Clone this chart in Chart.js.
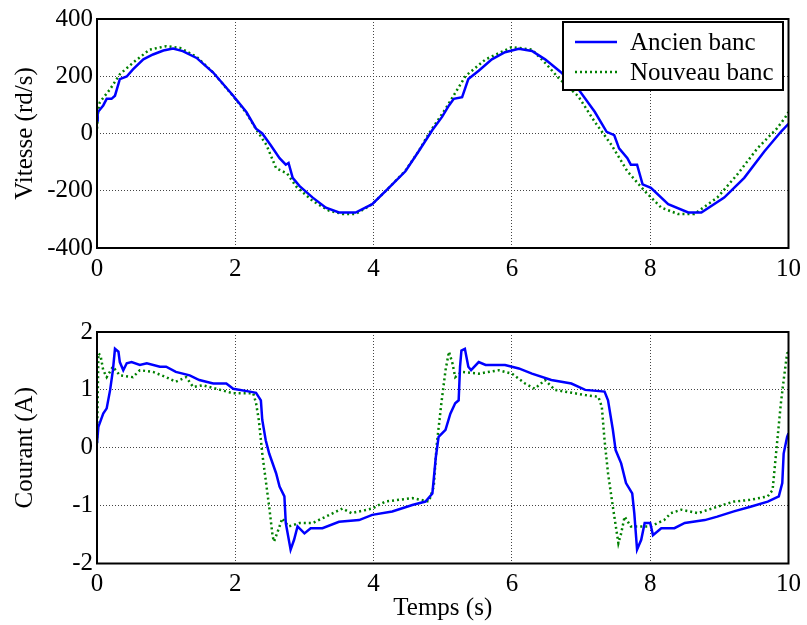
<!DOCTYPE html>
<html>
<head>
<meta charset="utf-8">
<script src="https://cdn.jsdelivr.net/npm/chart.js@4"></script>
<style>
  body { margin: 0; background: #fff; }
  canvas { position: absolute; left: 0; }
  #speed { top: 0; }
  #current { top: 300px; }
</style>
</head>
<body>
<canvas id="speed" width="807" height="290"></canvas>
<canvas id="current" width="807" height="325"></canvas>
<script>
// Vitesse - ancien banc
var tSpeedOld = [0, 0.01, 0.09, 0.14, 0.21, 0.26, 0.33, 0.43, 0.52, 0.67,
                 0.81, 0.96, 1.10, 1.24, 1.44, 1.68, 1.97, 2.16, 2.30, 2.39,
                 2.51, 2.64, 2.73, 2.77, 2.83, 2.93, 3.12, 3.31, 3.50, 3.74,
                 3.98, 4.22, 4.46, 4.65, 4.85, 4.99, 5.09, 5.16, 5.28, 5.37,
                 5.52, 5.71, 5.90, 6.10, 6.29, 6.48, 6.70, 6.96, 7.20, 7.37,
                 7.48, 7.55, 7.67, 7.72, 7.81, 7.89, 8.01, 8.26, 8.55, 8.74,
                 9.07, 9.36, 9.65, 9.89, 10];
var vSpeedOld = [45, 74, 98, 121, 121, 132, 190, 199, 224, 259,
                 276, 290, 297, 288, 264, 213, 132, 75, 17, 0,
                 -40, -86, -109, -103, -155, -184, -224, -259, -276, -276,
                 -247, -190, -132, -63, 12, 58, 98, 121, 127, 190,
                 219, 259, 284, 296, 288, 259, 216, 155, 75, 6,
                 -6, -52, -86, -109, -109, -178, -190, -247, -276, -276,
                 -224, -155, -63, 6, 34];

// Vitesse - nouveau banc
var tSpeedNew = [0, 0.02, 0.04, 0.19, 0.33, 0.52, 0.76, 1.00, 1.20, 1.44,
                 1.68, 1.97, 2.16, 2.30, 2.45, 2.59, 2.75, 2.88, 3.12, 3.36,
                 3.55, 3.74, 3.98, 4.22, 4.46, 4.65, 4.80, 5.04, 5.33, 5.62,
                 6.00, 6.29, 6.48, 6.67, 6.96, 7.20, 7.44, 7.67, 7.92, 8.16,
                 8.40, 8.64, 8.97, 9.26, 9.55, 9.83, 9.95, 10];
var vSpeedNew = [17, 86, 109, 155, 207, 247, 293, 305, 299, 268,
                 213, 130, 72, 15, -40, -121, -140, -185, -236, -270,
                 -281, -281, -247, -190, -130, -62, 0, 86, 201, 259,
                 302, 293, 247, 195, 130, 40, -40, -132, -201, -259,
                 -281, -281, -224, -143, -52, 17, 55, 75];

// Courant - ancien banc
var tCurOld = [0, 0.02, 0.09, 0.14, 0.19, 0.23, 0.26, 0.31, 0.33, 0.38,
               0.43, 0.50, 0.62, 0.72, 0.91, 1.00, 1.14, 1.34, 1.48, 1.68,
               1.87, 1.97, 2.21, 2.30, 2.37, 2.39, 2.44, 2.49, 2.59, 2.64,
               2.71, 2.73, 2.80, 2.85, 2.90, 3.00, 3.09, 3.26, 3.50, 3.79,
               3.98, 4.27, 4.56, 4.75, 4.85, 4.90, 4.94, 5.04, 5.11, 5.18,
               5.23, 5.25, 5.27, 5.32, 5.37, 5.41, 5.52, 5.62, 5.90, 6.10,
               6.29, 6.57, 6.86, 7.06, 7.34, 7.39, 7.46, 7.50, 7.58, 7.65,
               7.74, 7.77, 7.81, 7.87, 7.92, 8.00, 8.04, 8.16, 8.35, 8.50,
               8.79, 8.97, 9.21, 9.45, 9.70, 9.86, 9.91, 9.93, 9.98, 10];
var iCurOld = [0.08, 0.36, 0.59, 0.68, 1.00, 1.34, 1.71, 1.66, 1.48, 1.34,
               1.46, 1.48, 1.43, 1.46, 1.40, 1.40, 1.31, 1.25, 1.17, 1.11,
               1.11, 1.02, 0.97, 0.95, 0.82, 0.48, 0.13, -0.10, -0.44, -0.67,
               -0.84, -1.30, -1.76, -1.59, -1.36, -1.48, -1.39, -1.39, -1.28, -1.25,
               -1.16, -1.10, -0.99, -0.93, -0.79, -0.16, 0.19, 0.31, 0.59, 0.77,
               0.82, 1.40, 1.68, 1.71, 1.40, 1.34, 1.48, 1.43, 1.43, 1.37,
               1.28, 1.17, 1.11, 1.00, 0.97, 0.82, 0.31, -0.04, -0.27, -0.61,
               -0.79, -1.13, -1.76, -1.59, -1.30, -1.30, -1.51, -1.39, -1.39, -1.30,
               -1.25, -1.19, -1.10, -1.02, -0.93, -0.84, -0.61, -0.10, 0.19, 0.25];

// Courant - nouveau banc
var tCurNew = [0, 0.02, 0.05, 0.09, 0.14, 0.23, 0.33, 0.52, 0.62, 0.81,
               1.00, 1.14, 1.29, 1.39, 1.53, 1.72, 1.97, 2.26, 2.30, 2.34,
               2.39, 2.44, 2.49, 2.54, 2.56, 2.61, 2.68, 2.77, 2.93, 3.12,
               3.31, 3.55, 3.68, 3.98, 4.17, 4.56, 4.80, 4.87, 4.91, 4.98,
               5.04, 5.09, 5.14, 5.18, 5.27, 5.52, 5.81, 6.00, 6.19, 6.33,
               6.48, 6.62, 7.06, 7.25, 7.30, 7.34, 7.39, 7.46, 7.54, 7.58,
               7.63, 7.72, 8.00, 8.20, 8.30, 8.45, 8.69, 8.97, 9.21, 9.45,
               9.70, 9.77, 9.82, 9.89, 9.93, 9.98, 10];
var iCurNew = [0.08, 1.63, 1.60, 1.34, 1.22, 1.40, 1.25, 1.22, 1.34, 1.31,
               1.22, 1.14, 1.22, 1.05, 1.08, 1.02, 0.94, 0.94, 0.77, 0.48,
               -0.10, -0.56, -1.02, -1.53, -1.62, -1.46, -1.22, -1.36, -1.30, -1.30,
               -1.19, -1.05, -1.13, -1.05, -0.93, -0.87, -0.93, -0.67, 0.02, 0.77,
               1.34, 1.66, 1.46, 1.22, 1.31, 1.28, 1.34, 1.28, 1.11, 1.02,
               1.17, 1.00, 0.91, 0.88, 0.71, 0.13, -0.44, -1.02, -1.65, -1.48,
               -1.19, -1.36, -1.36, -1.25, -1.13, -1.07, -1.13, -1.02, -0.93, -0.90,
               -0.84, -0.73, -0.10, 0.77, 1.17, 1.63, 1.65];

var xTicks = [0, 2, 4, 6, 8, 10];
var labelOld = 'Ancien banc';
var labelNew = 'Nouveau banc';

var FONT = 'Liberation Serif';

function pts(t, v) {
    var out = [];
    for (var i = 0; i < t.length; i++) out.push({x: t[i], y: v[i]});
    return out;
}

// cadre noir autour de la zone de tracé
var frame = {
    id: 'frame',
    afterDraw: function (chart) {
        var a = chart.chartArea;
        var ctx = chart.ctx;
        ctx.save();
        ctx.lineWidth = 2;
        ctx.strokeStyle = '#000';
        ctx.strokeRect(a.left, a.top, a.right - a.left, a.bottom - a.top);
        ctx.restore();
    }
};

// légende encadrée style matlab
var boxLegend = {
    id: 'boxLegend',
    afterDraw: function (chart, args, opts) {
        if (!opts.show) return;
        var ctx = chart.ctx;
        var x = opts.x, y = opts.y, w = opts.w, h = opts.h;
        ctx.save();
        ctx.fillStyle = '#fff';
        ctx.fillRect(x, y, w, h);
        ctx.lineWidth = 2;
        ctx.strokeStyle = '#000';
        ctx.strokeRect(x, y, w, h);
        chart.data.datasets.forEach(function (ds, i) {
            var cy = y + 20 + i * 30;
            ctx.beginPath();
            ctx.setLineDash(ds.borderDash || []);
            ctx.strokeStyle = ds.borderColor;
            ctx.lineWidth = ds.borderWidth;
            ctx.moveTo(x + 12, cy);
            ctx.lineTo(x + 54, cy);
            ctx.stroke();
            ctx.setLineDash([]);
            ctx.fillStyle = '#000';
            ctx.font = '25px "' + FONT + '"';
            ctx.textBaseline = 'middle';
            ctx.fillText(ds.label, x + 67, cy + 1);
        });
        ctx.restore();
    }
};

function drawPlot(canvasId, oldData, newData, yMin, yMax, yStep, yTitle, xTitle, padTop, xHeight, legend) {
    var ctx = document.getElementById(canvasId).getContext('2d');
    return new Chart(ctx, {
        type: 'line',
        data: {
            datasets: [{
                label: labelOld,
                data: oldData,
                borderColor: '#0000ff',
                borderWidth: 2.5,
                pointRadius: 0,
                fill: false,
                tension: 0
            }, {
                label: labelNew,
                data: newData,
                borderColor: '#008000',
                borderWidth: 2.5,
                borderDash: [2, 3],
                pointRadius: 0,
                fill: false,
                tension: 0
            }]
        },
        options: {
            responsive: false,
            animation: false,
            layout: { padding: { top: padTop, right: 16, left: 0, bottom: 0 } },
            plugins: {
                legend: { display: false },
                tooltip: { enabled: false },
                boxLegend: legend
            },
            scales: {
                x: {
                    type: 'linear',
                    min: 0,
                    max: 10,
                    afterBuildTicks: function (s) { s.ticks = xTicks.map(function (v) { return {value: v}; }); },
                    afterFit: function (s) { s.height = xHeight; },
                    grid: { color: '#444', lineWidth: 1, drawTicks: false },
                    border: { display: false, dash: [1, 2] },
                    ticks: { color: '#000', padding: 6, maxRotation: 0, font: { family: FONT, size: 25 } },
                    title: {
                        display: !!xTitle,
                        text: xTitle,
                        color: '#000',
                        padding: { top: 0, bottom: 2 },
                        font: { family: FONT, size: 25 }
                    }
                },
                y: {
                    min: yMin,
                    max: yMax,
                    afterFit: function (s) { s.width = 97; },
                    grid: { color: '#444', lineWidth: 1, drawTicks: false },
                    border: { display: false, dash: [1, 2] },
                    ticks: { color: '#000', stepSize: yStep, padding: 4, font: { family: FONT, size: 25 } },
                    title: {
                        display: true,
                        text: yTitle,
                        color: '#000',
                        padding: { top: 10, bottom: 0 },
                        font: { family: FONT, size: 25 }
                    }
                }
            }
        },
        plugins: [frame, boxLegend]
    });
}

drawPlot('speed', pts(tSpeedOld, vSpeedOld), pts(tSpeedNew, vSpeedNew),
    -400, 400, 200, 'Vitesse (rd/s)', '', 16, 42,
    { show: true, x: 563, y: 22, w: 220, h: 68 });

drawPlot('current', pts(tCurOld, iCurOld), pts(tCurNew, iCurNew),
    -2, 2, 1, 'Courant (A)', 'Temps (s)', 32, 61.5,
    { show: false });
</script>
</body>
</html>
